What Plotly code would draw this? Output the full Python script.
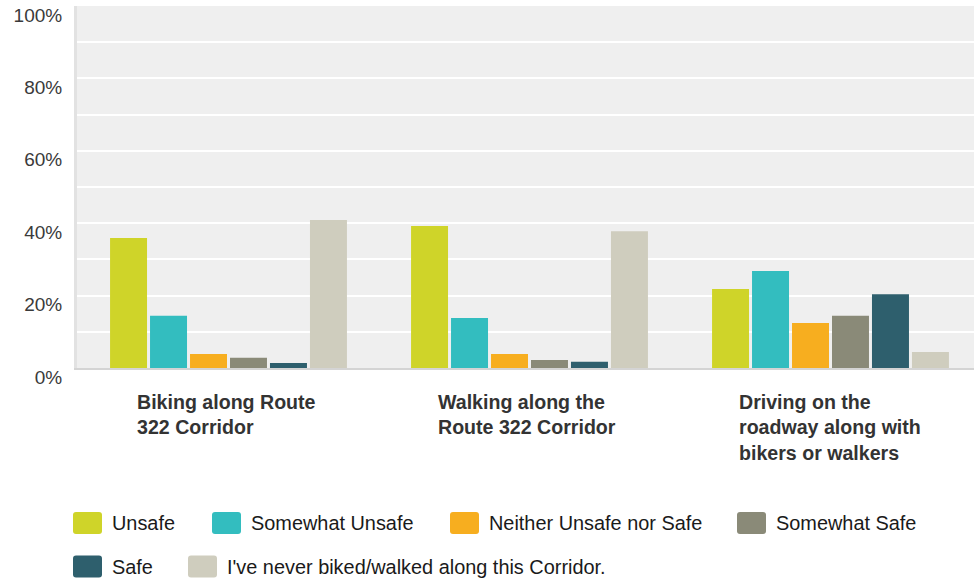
import plotly.graph_objects as go

categories = ["Biking along Route 322 Corridor",
              "Walking along the Route 322 Corridor",
              "Driving on the roadway along with bikers or walkers"]
category_labels = ["Biking along Route<br>322 Corridor",
                   "Walking along the<br>Route 322 Corridor",
                   "Driving on the<br>roadway along with<br>bikers or walkers"]

series_names = ["Unsafe", "Somewhat Unsafe", "Neither Unsafe nor Safe",
                "Somewhat Safe", "Safe", "I've never biked/walked along this Corridor."]

unsafe = [35.9, 39.2, 21.8]
somewhat_unsafe = [14.4, 13.8, 26.8]
neither = [3.9, 3.9, 12.4]
somewhat_safe = [2.8, 2.2, 14.4]
safe = [1.4, 1.7, 20.4]
never = [40.9, 37.8, 4.4]

series_values = [unsafe, somewhat_unsafe, neither, somewhat_safe, safe, never]
colors = ["#cfd429", "#33bdbf", "#f7ae1f", "#8a8a78", "#2e5f6d", "#cfcdbe"]

y_tickvals = [0, 20, 40, 60, 80, 100]
y_ticktext = ["0%", "20%", "40%", "60%", "80%", "100%"]

FONT = "Liberation Sans, Arial, sans-serif"

fig = go.Figure()
for name, vals, col in zip(series_names, series_values, colors):
    fig.add_trace(go.Bar(x=categories, y=vals, name=name, marker_color=col,
                         marker_line_width=0, showlegend=False,
                         hovertemplate="%{y:.1f}%<extra>" + name + "</extra>"))

# layout geometry (pixels)
L, T, B = 77, 6, 213
W, H = 974, 581
plot_h = H - T - B

# category labels (left-aligned blocks)
for i, lab in enumerate(category_labels):
    fig.add_annotation(x=categories[i], xref="x", xanchor="left", xshift=-94,
                       y=0, yref="paper", yanchor="top", yshift=-21,
                       text="<b>" + lab + "</b>", showarrow=False, align="left",
                       font=dict(family=FONT, size=19.6, color="#333333"))

# custom legend
legend_rows = [0, 0, 0, 0, 1, 1]
legend_x = [73, 212, 450, 737, 73, 188]
row_center = [523, 566.5]
sw_w, sw_h, r = 29, 22, 3

def rounded_path(x0, y0, x1, y1, r):
    return (f"M{x0+r},{y0} L{x1-r},{y0} Q{x1},{y0} {x1},{y0+r} "
            f"L{x1},{y1-r} Q{x1},{y1} {x1-r},{y1} L{x0+r},{y1} "
            f"Q{x0},{y1} {x0},{y1-r} L{x0},{y0+r} Q{x0},{y0} {x0+r},{y0} Z")

for name, col, row, px in zip(series_names, colors, legend_rows, legend_x):
    cy = row_center[row]
    x0 = px - L
    x1 = x0 + sw_w
    yc = -(cy - (T + plot_h))
    y0 = yc - sw_h / 2
    y1 = yc + sw_h / 2
    fig.add_shape(type="path", xref="paper", yref="paper",
                  xsizemode="pixel", ysizemode="pixel", xanchor=0, yanchor=0,
                  path=rounded_path(x0, y0, x1, y1, r),
                  fillcolor=col, line=dict(width=0), layer="above")
    fig.add_annotation(x=0, xref="paper", xanchor="left", xshift=px + 38 - L - 1,
                       y=0, yref="paper", yanchor="middle", yshift=yc,
                       text=name, showarrow=False,
                       font=dict(family=FONT, size=19.9, color="#1a1a1a"))

xr0 = -151.5 / 301
xr1 = xr0 + (W - L) / 301

fig.update_layout(
    width=W, height=H,
    margin=dict(l=L, r=0, t=T, b=B, pad=0),
    paper_bgcolor="white",
    plot_bgcolor="#efefef",
    barmode="group",
    bargap=0.203,
    bargroupgap=0.075,
    showlegend=False,
    font=dict(family=FONT, size=19, color="#333333"),
    xaxis=dict(type="category", range=[xr0, xr1], showticklabels=False,
               showgrid=False, zeroline=False, showline=True,
               linecolor="#d4d4d4", linewidth=2, ticks="", fixedrange=True),
    yaxis=dict(range=[0, 100], tickvals=y_tickvals, ticktext=y_ticktext,
               showgrid=True, gridcolor="white", gridwidth=2,
               minor=dict(dtick=10, showgrid=True, gridcolor="white", gridwidth=2),
               zeroline=False, showline=True, linecolor="#e2e2e2", linewidth=3,
               ticks="", ticklabelposition="outside", ticklabelshift=9,
               ticklabelstandoff=8,
               tickfont=dict(family=FONT, size=19, color="#3a3a3a"),
               fixedrange=True),
)

fig.write_html("out.html", config={"displayModeBar": False},
               post_script="document.body.style.margin='0px';")
